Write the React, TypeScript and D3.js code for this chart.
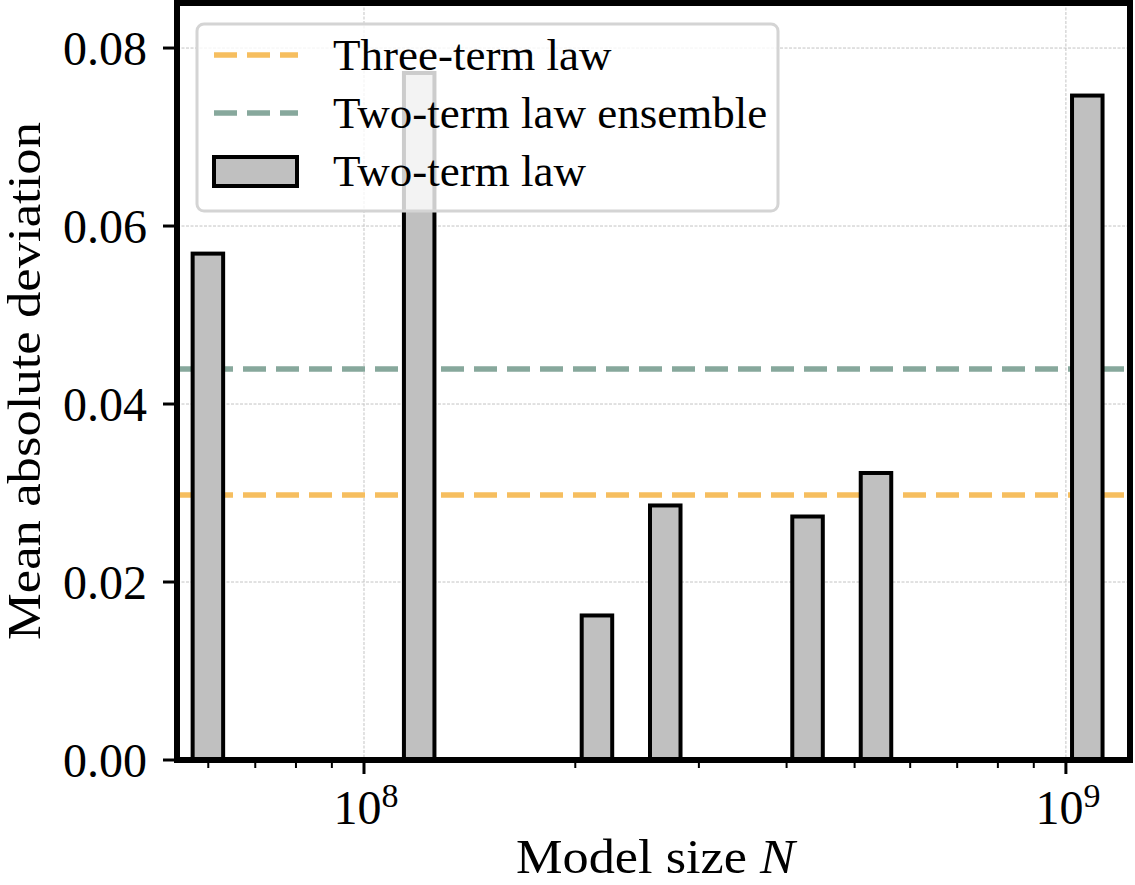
import React, { useEffect, useRef } from 'react'
import * as d3 from 'd3'

// model sizes (parameters) and two-term law MAD per model
const modelSizes = [6.0e7, 1.2e8, 2.15e8, 2.69e8, 4.29e8, 5.37e8, 1.074e9]
const twoTermMad = [0.0569, 0.0772, 0.01624, 0.0286, 0.02736, 0.03225, 0.07466]

const threeTermMad = 0.02978
const ensembleMad = 0.04393

const yTicks = [0, 0.02, 0.04, 0.06, 0.08]
const xMajor = [1e8, 1e9]
const xMinor = [6e7, 7e7, 8e7, 9e7, 2e8, 3e8, 4e8, 5e8, 6e8, 7e8, 8e8, 9e8]
const legendLabels = ['Three-term law', 'Two-term law ensemble', 'Two-term law']

const ORANGE = '#f6be5f'
const GREEN = '#87a89c'
const FONT = '"Liberation Serif", "Times New Roman", serif'

const App = () => {
  const svgRef = useRef<SVGSVGElement>(null)

  useEffect(() => {
    const width = 1135
    const height = 885
    const left = 177
    const right = 1130
    const top = 3
    const bottom = 760

    const svg = d3.select(svgRef.current)
    svg.selectAll('*').remove()
    svg.attr('width', width).attr('height', height)

    const x = d3.scaleLog().domain([5.415e7, 1.234e9]).range([left, right])
    const y = d3.scaleLinear().domain([0, 0.08506]).range([bottom, top])

    // grid
    const grid = svg.append('g')
    grid
      .selectAll('line.gy')
      .data(yTicks.slice(1))
      .join('line')
      .attr('x1', left)
      .attr('x2', right)
      .attr('y1', (d) => y(d))
      .attr('y2', (d) => y(d))
    grid
      .selectAll('line.gx')
      .data(xMajor)
      .join('line')
      .attr('x1', (d) => x(d))
      .attr('x2', (d) => x(d))
      .attr('y1', top)
      .attr('y2', bottom)
    grid
      .selectAll('line')
      .attr('stroke', '#c4c4c4')
      .attr('stroke-width', 1)
      .attr('stroke-dasharray', '3,1.5')

    // reference lines
    svg
      .append('line')
      .attr('x1', left)
      .attr('x2', right)
      .attr('y1', y(ensembleMad))
      .attr('y2', y(ensembleMad))
      .attr('stroke', GREEN)
      .attr('stroke-width', 5.5)
      .attr('stroke-dasharray', '23,10')
    svg
      .append('line')
      .attr('x1', left)
      .attr('x2', right)
      .attr('y1', y(threeTermMad))
      .attr('y2', y(threeTermMad))
      .attr('stroke', ORANGE)
      .attr('stroke-width', 5.5)
      .attr('stroke-dasharray', '23,10')

    // bars, width 10% of N, centred
    svg
      .append('g')
      .selectAll('rect')
      .data(modelSizes)
      .join('rect')
      .attr('x', (d) => x(d * 0.95))
      .attr('width', (d) => x(d * 1.05) - x(d * 0.95))
      .attr('y', (d, i) => y(twoTermMad[i]))
      .attr('height', (d, i) => bottom - y(twoTermMad[i]))
      .attr('fill', '#c0c0c0')
      .attr('stroke', '#000')
      .attr('stroke-width', 4)

    // legend
    const lg = svg.append('g')
    lg.append('rect')
      .attr('x', 197)
      .attr('y', 24)
      .attr('width', 581)
      .attr('height', 187)
      .attr('rx', 7)
      .attr('fill', '#fff')
      .attr('fill-opacity', 0.8)
      .attr('stroke', '#d4d4d4')
      .attr('stroke-width', 3)
    const rowY = [55, 113, 171]
    ;[ORANGE, GREEN].forEach((c, i) => {
      lg.append('line')
        .attr('x1', 214)
        .attr('x2', 298)
        .attr('y1', rowY[i])
        .attr('y2', rowY[i])
        .attr('stroke', c)
        .attr('stroke-width', 5.5)
        .attr('stroke-dasharray', '23,10')
    })
    lg.append('rect')
      .attr('x', 214)
      .attr('y', 157)
      .attr('width', 83)
      .attr('height', 29)
      .attr('fill', '#c0c0c0')
      .attr('stroke', '#000')
      .attr('stroke-width', 4)
    lg.selectAll('text')
      .data(legendLabels)
      .join('text')
      .attr('x', 333)
      .attr('y', (d, i) => rowY[i] + 15)
      .text((d) => d)
      .style('font-family', FONT)
      .style('font-size', '45px')

    // y ticks
    const yAxis = svg.append('g')
    yAxis
      .selectAll('line')
      .data(yTicks)
      .join('line')
      .attr('x1', 163)
      .attr('x2', left)
      .attr('y1', (d) => y(d))
      .attr('y2', (d) => y(d))
      .attr('stroke', '#000')
      .attr('stroke-width', 3)
    yAxis
      .selectAll('text')
      .data(yTicks)
      .join('text')
      .attr('x', 147)
      .attr('y', (d) => y(d) + 17)
      .attr('text-anchor', 'end')
      .text((d) => d3.format('.2f')(d))
      .style('font-family', FONT)
      .style('font-size', '48px')

    // x ticks
    const xAxis = svg.append('g')
    xAxis
      .selectAll('line.minor')
      .data(xMinor)
      .join('line')
      .attr('x1', (d) => x(d))
      .attr('x2', (d) => x(d))
      .attr('y1', bottom)
      .attr('y2', bottom + 8)
      .attr('stroke', '#000')
      .attr('stroke-width', 2)
    xMajor.forEach((d) => {
      xAxis
        .append('line')
        .attr('x1', x(d))
        .attr('x2', x(d))
        .attr('y1', bottom)
        .attr('y2', bottom + 14)
        .attr('stroke', '#000')
        .attr('stroke-width', 3)
      const t = xAxis
        .append('text')
        .attr('x', x(d) + 2)
        .attr('y', 824)
        .attr('text-anchor', 'middle')
        .style('font-family', FONT)
        .style('font-size', '48px')
      t.append('tspan').text('10')
      t.append('tspan')
        .attr('dy', -17)
        .style('font-size', '34px')
        .text(String(Math.round(Math.log10(d))))
    })

    // frame
    svg
      .append('rect')
      .attr('x', left)
      .attr('y', top)
      .attr('width', right - left)
      .attr('height', bottom - top)
      .attr('fill', 'none')
      .attr('stroke', '#000')
      .attr('stroke-width', 6)

    // axis titles
    const xt = svg
      .append('text')
      .attr('x', 516)
      .attr('y', 873)
      .attr('textLength', 279)
      .attr('lengthAdjust', 'spacingAndGlyphs')
      .style('font-family', FONT)
      .style('font-size', '48px')
    xt.append('tspan').text('Model size ')
    xt.append('tspan').style('font-style', 'italic').text('N')

    svg
      .append('text')
      .attr('transform', 'translate(40, 381) rotate(-90)')
      .attr('x', -259)
      .attr('textLength', 518)
      .attr('lengthAdjust', 'spacingAndGlyphs')
      .text('Mean absolute deviation')
      .style('font-family', FONT)
      .style('font-size', '46px')
  }, [])

  return (
    <svg
      ref={svgRef}
      style={{ position: 'absolute', left: 0, top: 0, background: '#fff' }}
    ></svg>
  )
}

export default App
